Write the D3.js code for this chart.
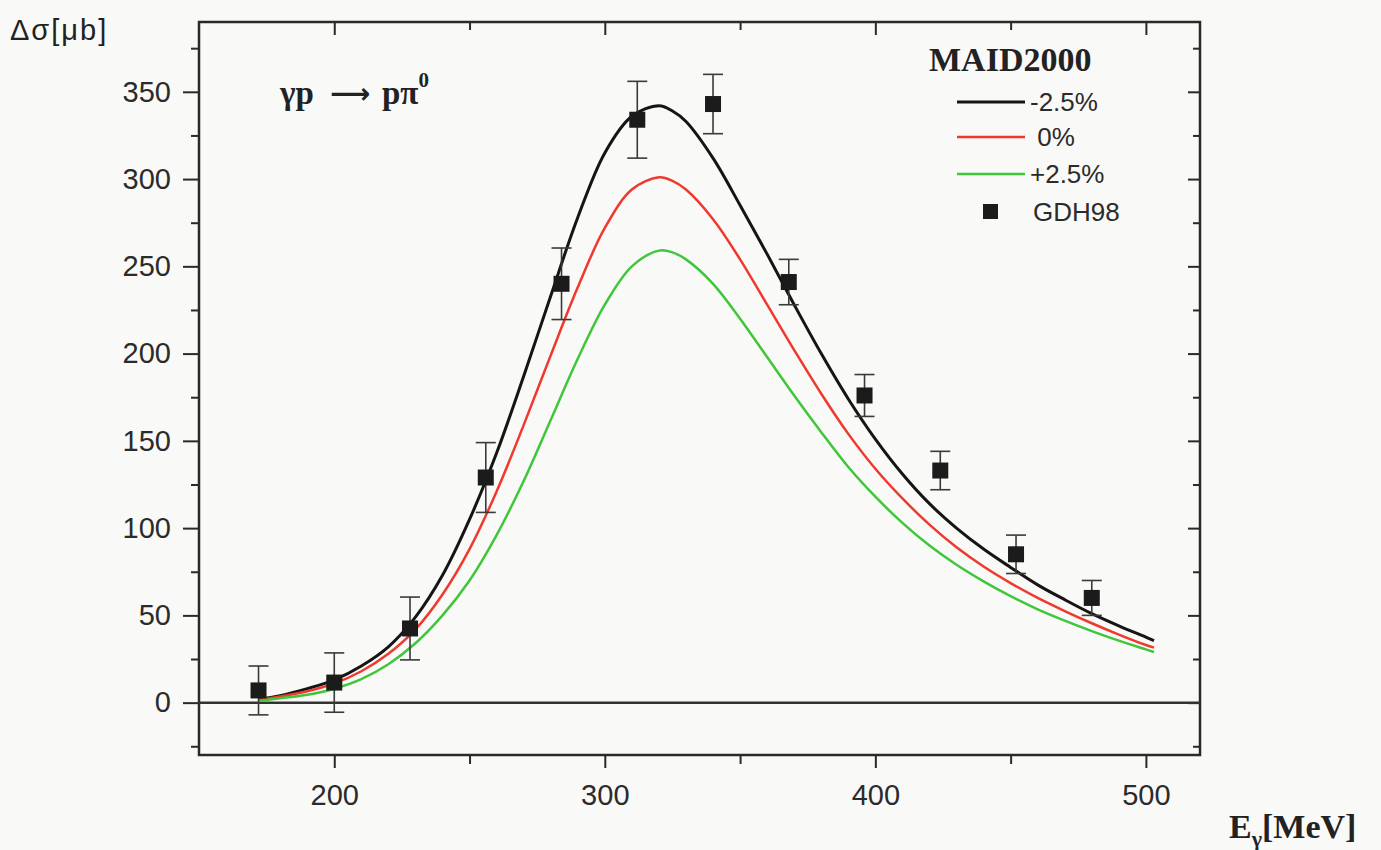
<!DOCTYPE html>
<html><head><meta charset="utf-8">
<script src="https://cdn.jsdelivr.net/npm/d3@7"></script>
<style>
html,body{margin:0;padding:0;background:#f9f9f7;}
svg{display:block;}
</style></head>
<body>
<svg id="c" width="1381" height="850"></svg>
<script>
// ---- data ----
const energies   = [172,180,190,200,210,220,230,240,250,260,270,280,290,300,310,320,325,330,340,350,360,370,380,390,400,410,420,430,440,450,460,470,480,490,500,503];
const maidMinus  = [2,4,8,13,21,32,49,73,105,143,187,233,278,315,336,342,339,333,312,285,257,228,200,174,151,131,114,100,88,77.5,67.5,59,51,44,37.5,35.5];
const maidZero   = [1.5,3.5,6.5,11,18,28,42,62,88,121,159,199,238,272,294,301,299,294,277,254,228,202,177,154,134,117,102,89,78,68.5,60,52.5,45.5,39,33,31.5];
const maidPlus   = [1,2.5,4.5,8,13.5,22,34,50,70,96,127,162,197,228,250,259,258,254,240,220,198,176,155,135,118,103,90,79,69.5,61,53.5,47,41,35.5,30.5,29];
const seriesNames  = ["-2.5%"," 0%","+2.5%"];
const gdhEnergy  = [172,200,228,256,284,312,340,368,396,424,452,480];
const gdhValue   = [7,11.5,42.5,129,240,334,343,241,176,133,85,60];
const gdhError   = [14,17,18,20,20.5,22,17,13,12,11,11,10];
const xMajorTicks = [200,300,400,500];
const xMinorTicks = [250,350,450];
const yMajorTicks = [0,50,100,150,200,250,300,350];
const yMinorTicks = [-25,25,75,125,175,225,275,325,375];

// ---- layout ----
const svg = d3.select("#c");
const L=199, R=1200, T=22, B=755;
const x = d3.scaleLinear().domain([150,520]).range([L,R]);
const y = d3.scaleLinear().domain([-30,390]).range([B,T]);
const axisColor = "#2a2a2a";
const numFont = "'Liberation Sans', Arial, sans-serif";
const serif = "'Liberation Serif', 'Times New Roman', serif";

function styleAxis(g){
  g.select(".domain").remove();
  g.selectAll("line").attr("stroke",axisColor).attr("stroke-width",2);
  g.selectAll("text").attr("fill","#2b2b2b").style("font-family",numFont).style("font-size","29px");
}

// left axis
svg.append("g").attr("transform",`translate(${L},0)`)
  .call(d3.axisLeft(y).tickValues(yMajorTicks).tickSize(16).tickPadding(12).tickFormat(d3.format("d"))).call(styleAxis);
svg.append("g").attr("transform",`translate(${L},0)`)
  .call(d3.axisLeft(y).tickValues(yMinorTicks).tickSize(8).tickFormat("")).call(styleAxis);
// right axis (inward)
svg.append("g").attr("transform",`translate(${R},0)`)
  .call(d3.axisRight(y).tickValues(yMajorTicks).tickSize(-12).tickFormat("")).call(styleAxis);
svg.append("g").attr("transform",`translate(${R},0)`)
  .call(d3.axisRight(y).tickValues(yMinorTicks).tickSize(-7).tickFormat("")).call(styleAxis);
// bottom axis
svg.append("g").attr("transform",`translate(0,${B})`)
  .call(d3.axisBottom(x).tickValues(xMajorTicks).tickSize(13).tickPadding(16).tickFormat(d3.format("d"))).call(styleAxis);
svg.append("g").attr("transform",`translate(0,${B})`)
  .call(d3.axisBottom(x).tickValues(xMinorTicks).tickSize(9).tickFormat("")).call(styleAxis);
// top axis (inward)
svg.append("g").attr("transform",`translate(0,${T})`)
  .call(d3.axisTop(x).tickValues(xMajorTicks).tickSize(-13).tickFormat("")).call(styleAxis);
svg.append("g").attr("transform",`translate(0,${T})`)
  .call(d3.axisTop(x).tickValues(xMinorTicks).tickSize(-8).tickFormat("")).call(styleAxis);

// frame
svg.append("rect").attr("x",L).attr("y",T).attr("width",R-L).attr("height",B-T)
  .attr("fill","none").attr("stroke",axisColor).attr("stroke-width",2.5);

// zero line
svg.append("line").attr("x1",L).attr("x2",R).attr("y1",y(0)).attr("y2",y(0))
  .attr("stroke","#333").attr("stroke-width",2.5);

// curves
const curveColors = ["#151515","#f0392e","#3fc63a"];
const curveWidths = [3,2.5,2.5];
const allSeries = [maidMinus, maidZero, maidPlus];
const line = d3.line().x(d=>x(d[0])).y(d=>y(d[1])).curve(d3.curveCatmullRom.alpha(0.5));
allSeries.forEach((vals,i)=>{
  svg.append("path").datum(energies.map((e,j)=>[e,vals[j]]))
    .attr("d",line).attr("fill","none").attr("stroke",curveColors[i]).attr("stroke-width",curveWidths[i])
    .attr("stroke-linejoin","round");
});

// data points with error bars
const pts = gdhEnergy.map((e,i)=>({e, v:gdhValue[i], err:gdhError[i]}));
const eg = svg.append("g").attr("stroke","#3a3a3a").attr("stroke-width",1.6);
pts.forEach(p=>{
  const cx=x(p.e), y1=y(p.v+p.err), y2=y(p.v-p.err);
  eg.append("line").attr("x1",cx).attr("x2",cx).attr("y1",y1).attr("y2",y2);
  eg.append("line").attr("x1",cx-10).attr("x2",cx+10).attr("y1",y1).attr("y2",y1);
  eg.append("line").attr("x1",cx-10).attr("x2",cx+10).attr("y1",y2).attr("y2",y2);
});
svg.append("g").selectAll("rect").data(pts).join("rect")
  .attr("x",d=>x(d.e)-8).attr("y",d=>y(d.v)-8).attr("width",16).attr("height",16)
  .attr("fill","#1b1b1b");

// reaction label
const rl = svg.append("text").attr("y",104)
  .style("font-family",serif).style("font-weight","bold").style("font-size","33px").attr("fill","#222");
rl.append("tspan").attr("x",280).text("γp");
rl.append("tspan").attr("x",330).attr("dy",-1).style("font-family","'DejaVu Sans', sans-serif").style("font-size","28px").text("⟶");
rl.append("tspan").attr("x",382).attr("dy",1).text("pπ");
rl.append("tspan").attr("dy",-17).style("font-size","21px").text("0");

// legend
svg.append("text").attr("x",929).attr("y",71).text("MAID2000")
  .style("font-family",serif).style("font-weight","bold").style("font-size","34px").attr("fill","#222");
const legY = [102,137,174];
seriesNames.forEach((n,i)=>{
  svg.append("line").attr("x1",957).attr("x2",1025).attr("y1",legY[i]).attr("y2",legY[i])
    .attr("stroke",curveColors[i]).attr("stroke-width",curveWidths[i]);
  svg.append("text").attr("x",1030).attr("y",legY[i]+9).text(n).attr("xml:space","preserve")
    .style("white-space","pre").style("font-family",numFont).style("font-size","26px").attr("fill","#2b2b2b");
});
svg.append("rect").attr("x",983).attr("y",204).attr("width",15).attr("height",15).attr("fill","#1b1b1b");
svg.append("text").attr("x",1033).attr("y",221).text("GDH98")
  .style("font-family",numFont).style("font-size","26px").attr("fill","#2b2b2b");

// axis titles
svg.append("text").attr("x",10).attr("y",40).text("Δσ[μb]")
  .style("font-family",numFont).style("font-size","29px").style("letter-spacing","2px").attr("fill","#222");
const xt = svg.append("text").attr("x",1229).attr("y",838)
  .style("font-family",serif).style("font-weight","bold").style("font-size","34px").attr("fill","#222");
xt.append("tspan").text("E");
xt.append("tspan").attr("dy",8).style("font-size","22px").text("γ");
xt.append("tspan").attr("dy",-8).text("[MeV]");
</script>
</body></html>
